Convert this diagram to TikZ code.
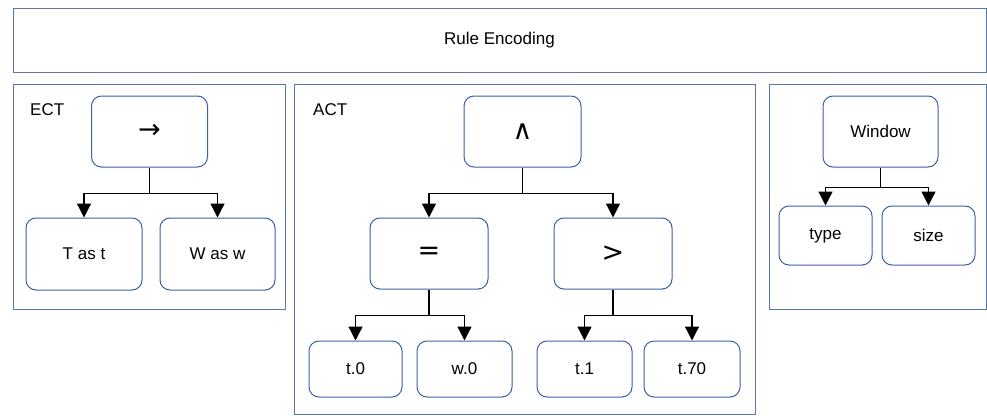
\documentclass[tikz,border=0pt]{standalone}
\usepackage{fontspec}
\setmainfont{Liberation Sans}
\newfontfamily\symFont{DejaVu Sans}
\usetikzlibrary{positioning,arrows.meta}
\definecolor{nodeBlue}{RGB}{60,95,165}
\definecolor{frameBlue}{RGB}{90,118,176}
\tikzstyle{canvas} = [x = 1pt, y = -1pt]
\tikzstyle{frameStyle} = [draw=frameBlue, line width=1pt]
\tikzstyle{plainText} = [font=\fontsize{17}{20}\selectfont]
\tikzstyle{treeNode} = [draw=nodeBlue, fill=white, rounded corners=10pt, line width=1pt, plainText, inner sep=0pt]
\tikzstyle{opNode} = [treeNode, minimum width=116pt, minimum height=71pt, font=\symFont\fontsize{27}{30}\selectfont]
\tikzstyle{wideLeaf} = [treeNode, minimum width=116pt, minimum height=72pt]
\tikzstyle{leafNode} = [treeNode, minimum width=94pt, minimum height=56pt]
\tikzstyle{frameLabel} = [plainText, anchor=west, inner sep=0pt]
\tikzstyle{branchLine} = [black, line width=1.3pt, -{Triangle[length=14pt, width=14pt]}]
\newcommand{\frameBox}[4]{\draw [frameStyle] (#1, #2) rectangle (#3, #4);}
\newcommand{\branch}[3]{\draw [branchLine] (#1.south) -- ++(0, #3) -| (#2.north);}

\begin{document}
\begin{tikzpicture}[canvas]
  \useasboundingbox (0,0) rectangle (987,415);

  % header
  \node [frameStyle, plainText, minimum width=973pt, minimum height=64pt] (ruleEncoding) at (499.5, 40) {Rule Encoding};

  % ECT
  \frameBox{13}{84}{285}{309}
  \node [frameLabel] (ectLabel) at (30, 110) {ECT};
  \node [opNode] (implies) at (149.5, 131.5) {→};
  \node [wideLeaf] (tAsT) at (84, 254) {T as t};
  \node [wideLeaf, minimum width=115pt] (wAsW) at (217.5, 254) {W as w};
  \branch{implies}{tAsT}{26}
  \branch{implies}{wAsW}{26}

  % ACT
  \frameBox{294}{84}{755}{414}
  \node [frameLabel] (actLabel) at (313, 110) {ACT};
  \node [opNode, minimum width=117pt] (andOp) at (522.5, 131.5) {∧};
  \node [opNode, minimum width=118pt] (eqOp) at (429, 253.5) {=};
  \node [opNode, minimum width=118pt] (gtOp) at (613, 253.5) {>};
  \node [leafNode, minimum width=93pt] (tZero) at (355.5, 369) {t.0};
  \node [leafNode, minimum width=95pt] (wZero) at (464.5, 369) {w.0};
  \node [leafNode, minimum width=95pt] (tOne) at (584.5, 369) {t.1};
  \node [leafNode, minimum width=96pt] (tSeventy) at (692, 369) {t.70};
  \branch{andOp}{eqOp}{26}
  \branch{andOp}{gtOp}{26}
  \branch{eqOp}{tZero}{26}
  \branch{eqOp}{wZero}{26}
  \branch{gtOp}{tOne}{26}
  \branch{gtOp}{tSeventy}{26}

  % window
  \frameBox{769}{84}{986}{309}
  \node [opNode, plainText, minimum width=115pt] (window) at (880.5, 131.5) {Window};
  \node [leafNode, minimum width=93pt, minimum height=59pt] (type) at (825.5, 235.5) {type};
  \node [leafNode, minimum width=93pt, minimum height=59pt] (size) at (928.5, 235.5) {size};
  \branch{window}{type}{20}
  \branch{window}{size}{20}
\end{tikzpicture}
\end{document}
